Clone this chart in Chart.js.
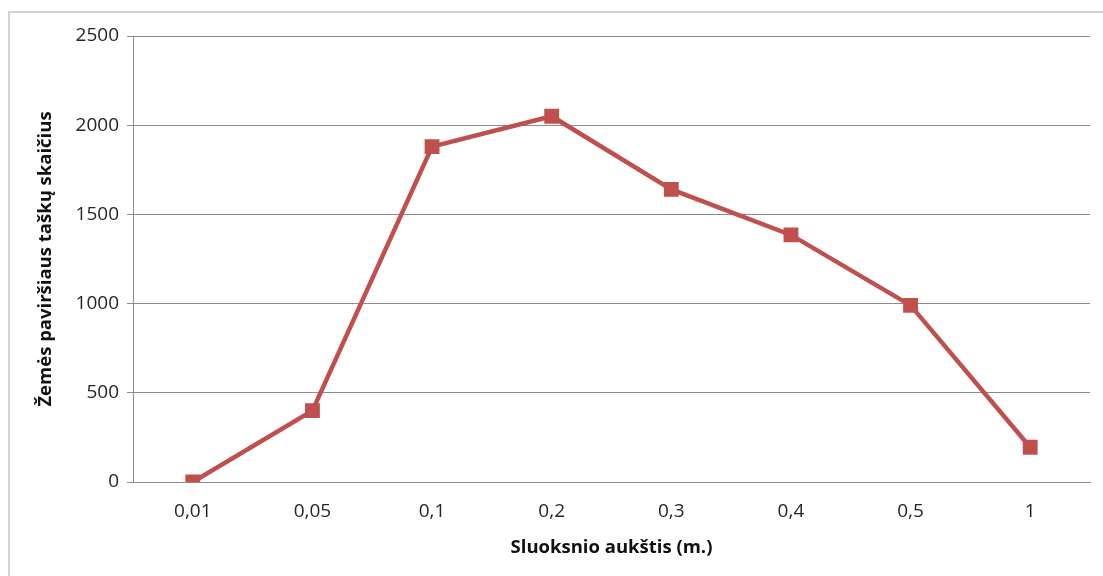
<!DOCTYPE html>
<html>
<head>
<meta charset="utf-8">
<script src="https://cdn.jsdelivr.net/npm/chart.js@4/dist/chart.umd.min.js"></script>
<style>
  html, body { margin: 0; padding: 0; background: #ffffff; }
  canvas { display: block; }
</style>
</head>
<body>
<canvas id="chart" width="1103" height="576"></canvas>
<script>
// Layer heights (m) on the category axis
const layerHeights = ['0,01', '0,05', '0,1', '0,2', '0,3', '0,4', '0,5', '1'];
// Number of ground-surface points for each layer height
const pointCounts = [0, 400, 1880, 2050, 1640, 1385, 990, 195];
// Value axis ticks
const yTicks = [0, 500, 1000, 1500, 2000, 2500];

const FONT = '"Open Sans", "Noto Sans", sans-serif';
const GRID = '#8c8c8c';
const RED = '#c0504d';

// Light frame around the chart area
const framePlugin = {
  id: 'frame',
  beforeDraw(chart) {
    const ctx = chart.ctx;
    ctx.save();
    ctx.fillStyle = '#ffffff';
    ctx.fillRect(0, 0, chart.width, chart.height);
    ctx.strokeStyle = '#c4c4c4';
    ctx.lineWidth = 1.5;
    ctx.strokeRect(9, 12, chart.width + 10, chart.height + 10);
    ctx.restore();
  }
};

new Chart(document.getElementById('chart'), {
  type: 'line',
  data: {
    labels: layerHeights,
    datasets: [{
      data: pointCounts,
      borderColor: RED,
      backgroundColor: RED,
      borderWidth: 4.5,
      pointStyle: 'rect',
      pointRadius: 10.5,
      pointHoverRadius: 10.5,
      pointBorderWidth: 0,
      tension: 0
    }]
  },
  options: {
    responsive: false,
    animation: false,
    layout: { padding: { top: 36, right: 13, bottom: 0, left: 0 } },
    plugins: { legend: { display: false }, tooltip: { enabled: false } },
    scales: {
      x: {
        offset: true,
        grid: { display: false, drawTicks: false, tickLength: 0 },
        border: { display: true, color: GRID, width: 1 },
        ticks: { color: '#262626', font: { family: FONT, size: 19 }, padding: 18, maxRotation: 0 },
        title: {
          display: true,
          text: 'Sluoksnio aukštis (m.)',
          color: '#111',
          font: { family: FONT, size: 18.5, weight: 'bold' },
          padding: { top: 0, bottom: 17 }
        },
        afterFit(scale) { scale.height = 94; }
      },
      y: {
        min: 0,
        max: 2500,
        afterBuildTicks(scale) { scale.ticks = yTicks.map(v => ({ value: v })); },
        grid: { color: GRID, lineWidth: 1, drawTicks: true, tickLength: 6 },
        border: { display: true, color: GRID, width: 1 },
        ticks: {
          color: '#262626',
          font: { family: FONT, size: 19 },
          padding: 8,
          callback: (v) => String(v)
        },
        title: {
          display: true,
          text: 'Žemės paviršiaus taškų skaičius',
          color: '#111',
          font: { family: FONT, size: 18.5, weight: 'bold' },
          padding: { top: 35, bottom: 0 }
        },
        afterFit(scale) { scale.width = 133; }
      }
    }
  },
  plugins: [framePlugin]
});
</script>
</body>
</html>
